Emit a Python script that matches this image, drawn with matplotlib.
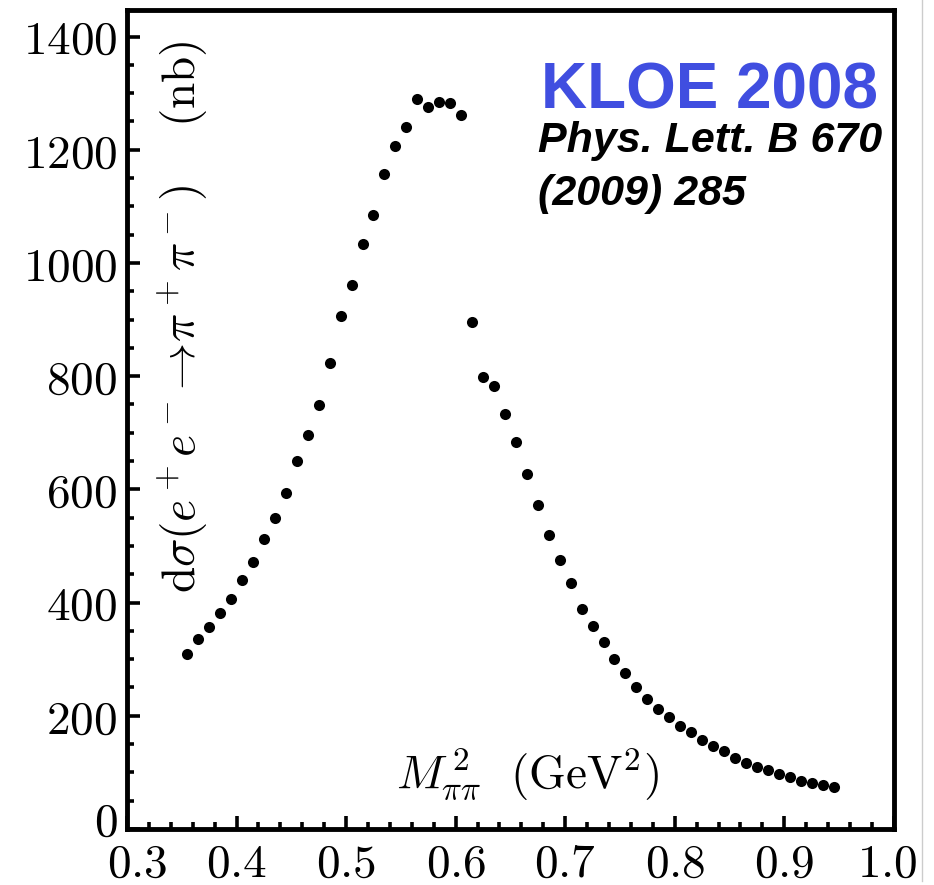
import matplotlib
matplotlib.use("Agg")
import matplotlib.pyplot as plt
import matplotlib.transforms as mtransforms
from matplotlib.lines import Line2D

plt.rcParams['mathtext.fontset'] = 'cm'

# KLOE 2008 bin centres (GeV^2) and cross section (nb)
m2 = [0.355, 0.365, 0.375, 0.385, 0.395, 0.405, 0.415, 0.425, 0.435, 0.445,
      0.455, 0.465, 0.475, 0.485, 0.495, 0.505, 0.515, 0.525, 0.535, 0.545,
      0.555, 0.565, 0.575, 0.585, 0.595, 0.605, 0.615, 0.625, 0.635, 0.645,
      0.655, 0.665, 0.675, 0.685, 0.695, 0.705, 0.715, 0.725, 0.735, 0.745,
      0.755, 0.765, 0.775, 0.785, 0.795, 0.805, 0.815, 0.825, 0.835, 0.845,
      0.855, 0.865, 0.875, 0.885, 0.895, 0.905, 0.915, 0.925, 0.935, 0.945]
sigma = [309, 336, 356, 381, 406, 440, 472, 512, 550, 593,
         650, 696, 749, 823, 907, 961, 1034, 1084, 1157, 1207,
         1241, 1289, 1275, 1285, 1282, 1262, 896, 799, 783, 733,
         683, 627, 573, 520, 475, 435, 389, 359, 330, 301,
         275, 250, 230, 212, 197, 182, 171, 157, 147, 137,
         126, 117, 110, 104, 98, 91, 85, 81, 78, 74]

xticks = [0.3, 0.4, 0.5, 0.6, 0.7, 0.8, 0.9, 1.0]
xticklabels = ['0.3', '0.4', '0.5', '0.6', '0.7', '0.8', '0.9', '1.0']
yticks = [0, 200, 400, 600, 800, 1000, 1200, 1400]
yticklabels = ['0', '200', '400', '600', '800', '1000', '1200', '1400']

fig = plt.figure(figsize=(9.34, 8.85), dpi=100)
ax = fig.add_axes([0.136, 0.0633, 0.821, 0.9254])

ax.plot(m2, sigma, 'o', color='black', ms=8, mec='none')

ax.set_xlim(0.3, 1.0)
ax.set_ylim(0, 1447)
ax.set_xticks(xticks, ['$%s$' % t for t in xticklabels])
ax.set_yticks(yticks, ['$%s$' % t for t in yticklabels])
ax.set_xticks([0.3 + 0.02 * i for i in range(36)], minor=True)
ax.set_yticks([50 * i for i in range(29)], minor=True)

for s in ax.spines.values():
    s.set_linewidth(3.5)
ax.tick_params(which='major', direction='in', length=9.5, width=2.6,
               labelsize=34, pad=7, top=False, right=False)
ax.tick_params(which='minor', direction='in', length=5, width=2.6,
               top=False, right=False)
ax.tick_params(axis='x', which='major', pad=9)

# nudge corner labels like the original so "0" and "0.3" don't collide
def nudge(label, dx, dy):
    off = mtransforms.ScaledTranslation(dx / 100, dy / 100, fig.dpi_scale_trans)
    label.set_transform(label.get_transform() + off)

nudge(ax.get_yticklabels()[0], 0, 11)
nudge(ax.get_xticklabels()[0], 10, 0)
nudge(ax.get_xticklabels()[-1], -7, 0)

# axis titles sit inside the frame
ax.text(0.073, 0.626,
        r'$\mathrm{d}\sigma(e^+e^-\!\to\!\pi^+\pi^-)\quad\ (\mathrm{nb})$',
        transform=ax.transAxes, rotation=90, ha='center', va='center',
        fontsize=34)
ax.text(0.523, 0.066, r'$M_{\pi\pi}^{\,2}\ \ (\mathrm{GeV}^2)$',
        transform=ax.transAxes, ha='center', va='center', fontsize=34)

ax.text(0.979, 0.880, 'KLOE 2008', transform=ax.transAxes, ha='right',
        va='baseline', fontsize=46, fontweight='bold', color='#404ee0',
        family='Liberation Sans')
ax.text(0.536, 0.827, 'Phys. Lett. B 670', transform=ax.transAxes,
        ha='left', va='baseline', fontsize=31, fontweight='bold',
        style='italic', family='Liberation Sans')
ax.text(0.536, 0.762, '(2009) 285', transform=ax.transAxes,
        ha='left', va='baseline', fontsize=31, fontweight='bold',
        style='italic', family='Liberation Sans')

# faint screenshot border
fig.add_artist(Line2D([922 / 934, 922 / 934], [0.005, 1.0], color='#cccccc', lw=1))

fig.savefig('out.png', dpi=100)
